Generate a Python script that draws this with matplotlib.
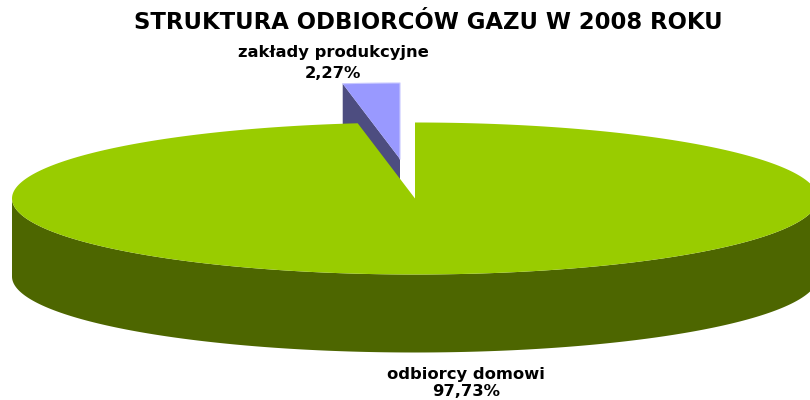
import numpy as np
import matplotlib
matplotlib.use('Agg')
import matplotlib.pyplot as plt
from matplotlib.patches import Polygon

plt.rcParams['font.family'] = 'DejaVu Sans'

labels = ['odbiorcy domowi', 'zakłady produkcyjne']
values = [97.73, 2.27]
value_text = ['97,73%', '2,27%']
title = 'STRUKTURA ODBIORCÓW GAZU W 2008 ROKU'

# pie geometry in pixels
cx, cy = 415, 198.5
rx, ry = 403, 76
depth = 78
off_x, off_y = -15, -39.5


def rim(start, end, n=400):
    # angles in degrees, clockwise from 12 o'clock
    t = np.radians(np.linspace(start, end, n))
    return np.column_stack([cx + rx * np.sin(t), cy - ry * np.cos(t)])


share = [v / sum(values) * 360 for v in values]
main_end = share[0]

fig = plt.figure(figsize=(8.1, 4.0), dpi=100)
ax = fig.add_axes([0, 0, 1, 1])
ax.set_xlim(0, 810)
ax.set_ylim(400, 0)
ax.axis('off')

# exploded small slice
small = rim(main_end, 360, 40) + [off_x, off_y]
apex = np.array([cx + off_x, cy + off_y])
left_edge = small[0]
wall = np.array([left_edge, apex, apex + [0, depth], left_edge + [0, depth]])
ax.add_patch(Polygon(wall, fc='#4D4D80', ec='none', zorder=1))
ax.add_patch(Polygon(np.vstack([apex, small]), fc='#9999FF', ec='none', zorder=2))
border = np.vstack([small, apex])
ax.plot(border[:, 0], border[:, 1], color='#C8C8FF', lw=0.8, zorder=2)

# main slice
top = rim(0, main_end)
front = rim(90, 270)
side = np.vstack([front, (front + [0, depth])[::-1]])
ax.add_patch(Polygon(side, fc='#4D6600', ec='none', zorder=3))
ax.add_patch(Polygon(np.vstack([[cx, cy], top]), fc='#99CC00', ec='none', zorder=4))

ax.text(428, 22.5, title, ha='center', va='center', fontsize=16.4, fontweight='bold', color='black')
ax.text(333, 52, labels[1], ha='center', va='center', fontsize=11.8, fontweight='bold')
ax.text(333, 73, value_text[1], ha='center', va='center', fontsize=11.8, fontweight='bold')
ax.text(466, 374, labels[0], ha='center', va='center', fontsize=11.8, fontweight='bold')
ax.text(466, 391, value_text[0], ha='center', va='center', fontsize=11.8, fontweight='bold')

fig.savefig('out.png', dpi=100)
